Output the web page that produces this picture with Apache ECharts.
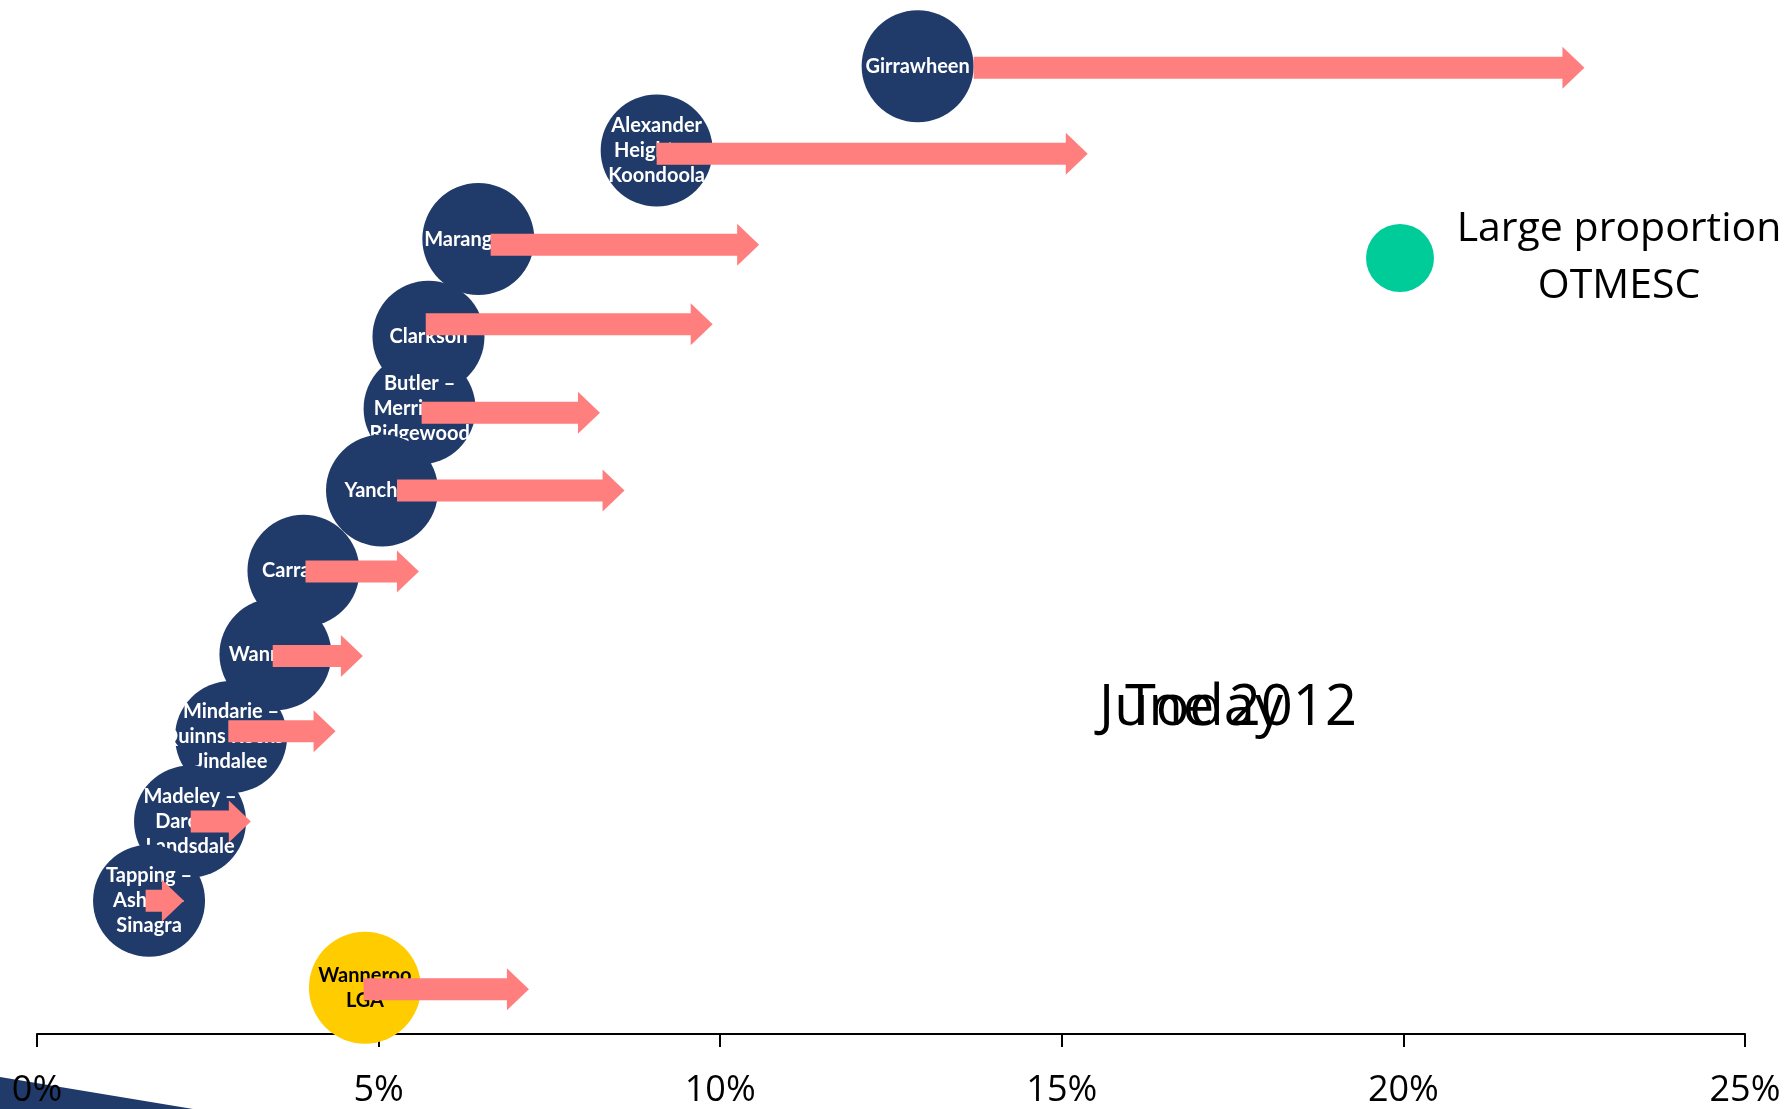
<!DOCTYPE html>
<html>
<head>
<meta charset="utf-8">
<script src="https://cdn.jsdelivr.net/npm/echarts@6/dist/echarts.min.js"></script>
<style>
html,body{margin:0;padding:0;background:#fff;}
#chart{width:1787px;height:1109px;}
</style>
</head>
<body>
<div id="chart"></div>
<script>
// Suburb labels (line breaks as in the bubbles)
var names = [
  'Girrawheen',
  'Alexander\nHeights –\nKoondoola',
  'Marangaroo',
  'Clarkson',
  'Butler –\nMerriwa –\nRidgewood',
  'Yanchep',
  'Carramar',
  'Wanneroo',
  'Mindarie –\nQuinns Rocks –\nJindalee',
  'Madeley –\nDarch –\nLandsdale',
  'Tapping –\nAshby –\nSinagra',
  'Wanneroo\nLGA'
];
var isLGA = [false,false,false,false,false,false,false,false,false,false,false,true];
// bubble position (June 2012 share, %) and row position
var bubbleX = [12.89, 9.07, 6.46, 5.73, 5.60, 5.05, 3.90, 3.49, 2.84, 2.24, 1.64, 4.80];
var bubbleY = [11.70, 10.68, 9.61, 8.43, 7.56, 6.57, 5.60, 4.59, 3.59, 2.57, 1.61, 0.56];
// arrow (from -> today share, %) and row position
var arrowFrom = [13.71, 9.07, 6.64, 5.69, 5.63, 5.27, 3.93, 3.45, 2.80, 2.25, 1.59, 4.78];
var arrowTo   = [22.65, 15.38, 10.57, 9.89, 8.24, 8.60, 5.59, 4.77, 4.37, 3.13, 2.15, 7.20];
var arrowY    = [11.68, 10.64, 9.54, 8.58, 7.51, 6.57, 5.59, 4.57, 3.66, 2.57, 1.61, 0.54];
var xTicks = [0, 5, 10, 15, 20, 25];

var NAVY = '#203B6A', YELLOW = '#FFCC00', SALMON = '#FF7F7F', GREEN = '#00CC99';

var chart = echarts.init(document.getElementById('chart'));

var bubbleData = bubbleX.map(function (x, i) { return [x, bubbleY[i], i]; });
var arrowData = arrowFrom.map(function (x, i) { return [x, arrowTo[i], arrowY[i], i]; });

var option = {
  animation: false,
  backgroundColor: '#ffffff',
  grid: { left: 37, right: 42, top: 0, bottom: 74 },
  xAxis: {
    type: 'value', min: xTicks[0], max: xTicks[xTicks.length - 1], interval: 5,
    axisLine: { show: true, lineStyle: { color: '#000', width: 2 } },
    axisTick: { show: true, length: 13, lineStyle: { color: '#000', width: 2 } },
    splitLine: { show: false },
    axisLabel: {
      formatter: '{value}%', color: '#000', fontSize: 36, margin: 39,
      fontFamily: 'Open Sans'
    }
  },
  yAxis: {
    type: 'value', min: 0, max: 12.5, show: false, splitLine: { show: false }
  },
  graphic: [
    { type: 'polygon', z: -10, silent: true,
      shape: { points: [[0, 1077], [193, 1109], [0, 1109]] },
      style: { fill: NAVY } },
    { type: 'circle', shape: { cx: 1400, cy: 258, r: 34 }, style: { fill: GREEN } },
    { type: 'text', x: 1619, y: 258,
      style: { text: 'Large proportion\nOTMESC', fill: '#000', font: '41px "Open Sans"',
        textAlign: 'center', textVerticalAlign: 'middle', lineHeight: 57 } },
    { type: 'text', x: 1228, y: 709,
      style: { text: 'June 2012', fill: '#000', font: '56px "Open Sans"',
        textAlign: 'center', textVerticalAlign: 'middle' } },
    { type: 'text', x: 1204, y: 709,
      style: { text: 'Today', fill: '#000', font: '56px "Open Sans"',
        textAlign: 'center', textVerticalAlign: 'middle' } }
  ],
  series: [
    {
      type: 'custom', name: 'bubbles', z: 2,
      data: bubbleData,
      renderItem: function (params, api) {
        var i = api.value(2);
        var p = api.coord([api.value(0), api.value(1)]);
        var lga = isLGA[i];
        return {
          type: 'group',
          children: [
            { type: 'circle', z2: i * 2, shape: { cx: p[0], cy: p[1], r: 56 },
              style: { fill: lga ? YELLOW : NAVY } },
            { type: 'text', z2: i * 2 + 1, x: p[0], y: p[1],
              style: { text: names[i], fill: lga ? '#000' : '#fff',
                font: 'bold 20px Lato', textAlign: 'center', textVerticalAlign: 'middle',
                lineHeight: 25 } }
          ]
        };
      }
    },
    {
      type: 'custom', name: 'arrows', z: 5,
      data: arrowData,
      renderItem: function (params, api) {
        var a = api.coord([api.value(0), api.value(2)]);
        var b = api.coord([api.value(1), api.value(2)]);
        var y = a[1], x0 = a[0], x1 = b[0];
        var hl = 22, bw = 11, hw = 21;
        var xh = x1 - hl;
        return {
          type: 'polygon',
          shape: { points: [[x0, y - bw], [xh, y - bw], [xh, y - hw], [x1, y], [xh, y + hw], [xh, y + bw], [x0, y + bw]] },
          style: { fill: SALMON }
        };
      }
    }
  ]
};
chart.setOption(option);
</script>
</body>
</html>
